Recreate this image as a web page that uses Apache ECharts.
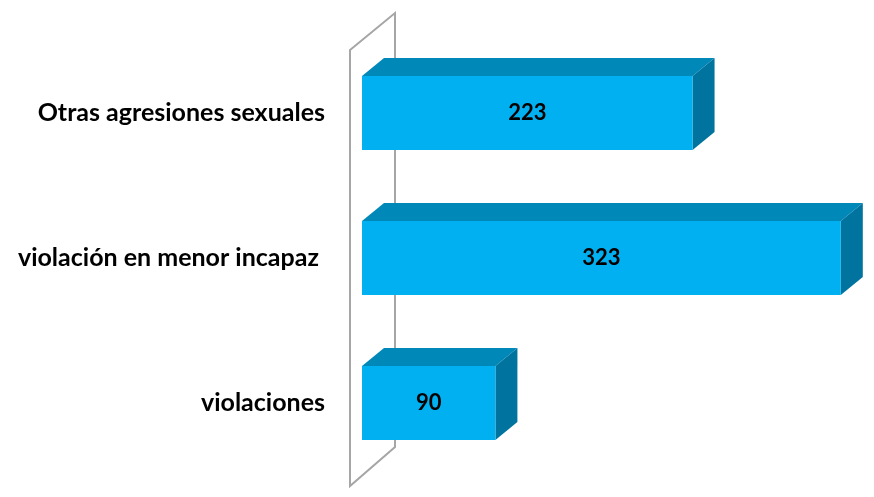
<!DOCTYPE html>
<html>
<head>
<meta charset="utf-8">
<script src="https://cdn.jsdelivr.net/npm/echarts@6/dist/echarts.min.js"></script>
<style>html,body{margin:0;padding:0;background:#fff}#c{width:874px;height:497px}</style>
</head>
<body>
<div id="c"></div>
<script>
const categories = ['Otras agresiones sexuales', 'violación en menor incapaz ', 'violaciones'];
const values = [223, 323, 90];

const FONT = 'Lato, "Open Sans", sans-serif';
const FRONT = '#00b0f0', TOP = '#0088b9', SIDE = '#00749e';
const DX = 22, DY = 18;

const chart = echarts.init(document.getElementById('c'));

function renderBar(params, api) {
  const v = api.value(0), c = api.value(1);
  const s = api.coord([0, c]), e = api.coord([v, c]);
  const band = api.size([0, 1])[1];
  const h = band * 0.51;
  const x0 = s[0], x1 = e[0], y0 = s[1] - h / 2, y1 = s[1] + h / 2;
  return {
    type: 'group',
    children: [
      { type: 'polygon', shape: { points: [[x0, y0], [x0 + DX, y0 - DY], [x1 + DX, y0 - DY], [x1, y0]] }, style: { fill: TOP } },
      { type: 'polygon', shape: { points: [[x1, y0], [x1 + DX, y0 - DY], [x1 + DX, y1 - DY], [x1, y1]] }, style: { fill: SIDE } },
      { type: 'rect', shape: { x: x0, y: y0, width: x1 - x0, height: h }, style: { fill: FRONT } },
      { type: 'text', style: { text: String(v), x: (x0 + x1) / 2, y: (y0 + y1) / 2, align: 'center', verticalAlign: 'middle', fontSize: 22, fontWeight: 'bold', fontFamily: FONT, fill: '#000' } }
    ]
  };
}

function renderWall(params, api) {
  const cs = params.coordSys;
  const lx = cs.x - 12, rx = lx + 45;
  const ty = cs.y + 9.5, by = cs.y + cs.height + 10.5;
  return {
    type: 'polygon',
    shape: { points: [[lx, ty], [rx, ty - 37], [rx, by - 39], [lx, by]] },
    style: { fill: 'none', stroke: '#a6a6a6', lineWidth: 2 }
  };
}

chart.setOption({
  animation: false,
  grid: { left: 362, top: 40.5, height: 435, width: 504 },
  xAxis: { type: 'value', min: 0, max: 340, show: false },
  yAxis: {
    type: 'category', data: categories, inverse: true,
    axisLine: { show: false }, axisTick: { show: false },
    axisLabel: { margin: 37, fontSize: 25, fontFamily: FONT, color: '#000', fontWeight: 'bold' }
  },
  series: [
    { type: 'custom', renderItem: renderWall, data: [[0, 0]], z: 1, silent: true },
    { type: 'custom', renderItem: renderBar, data: values.map((v, i) => [v, i]), encode: { x: 0, y: 1 }, z: 2 }
  ]
});
</script>
</body>
</html>
